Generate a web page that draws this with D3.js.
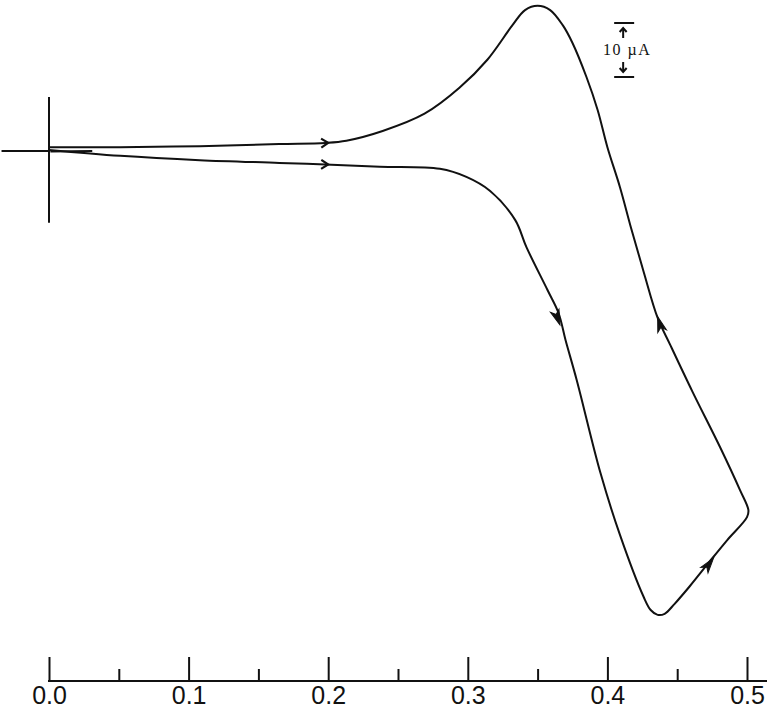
<!DOCTYPE html>
<html>
<head>
<meta charset="utf-8">
<script src="https://cdn.jsdelivr.net/npm/d3@7"></script>
<style>
  body { margin: 0; background: #fff; }
  svg { display: block; }
  .tick text { font-family: "Liberation Sans", Arial, sans-serif; font-size: 25px; fill: #111; }
</style>
</head>
<body>
<svg id="chart" width="767" height="710"></svg>
<script>
// voltammogram traced point by point: potential (V) and current (uA), one full loop
var potential = [0.000, 0.051, 0.108, 0.165, 0.198, 0.213, 0.239, 0.269, 0.294, 0.314,
  0.332, 0.341, 0.350, 0.359, 0.368, 0.375, 0.385, 0.393, 0.400, 0.409,
  0.417, 0.426, 0.436, 0.445, 0.461, 0.481, 0.495, 0.501, 0.500, 0.486,
  0.473, 0.459, 0.448, 0.441, 0.436, 0.431, 0.426, 0.409, 0.395, 0.378,
  0.370, 0.365, 0.357, 0.342, 0.334, 0.316, 0.299, 0.280, 0.237, 0.198,
  0.165, 0.108, 0.051, 0.000];
var current = [0.7, 0.7, 0.9, 1.3, 1.5, 1.9, 3.7, 6.9, 11.7, 16.9,
  23.3, 26.1, 26.9, 26.1, 23.3, 20.0, 13.7, 7.6, 0.7, -6.7,
  -14.3, -22.4, -30.9, -35.9, -44.6, -55.0, -62.8, -66.5, -67.8, -72.0,
  -76.1, -80.6, -83.9, -85.7, -85.9, -85.0, -82.6, -71.1, -59.6, -42.4,
  -35.0, -30.0, -25.7, -17.8, -12.8, -7.4, -4.8, -3.3, -2.9, -2.5,
  -2.2, -1.7, -0.9, 0.2];

// short stub near the start of the scan
var stubPotential = [0.001, 0.031];
var stubCurrent = [-0.1, 0.0];

// direction arrows: tip (E, i) and a point the arrow points toward
var arrowE = [0.200, 0.200, 0.366, 0.436, 0.476];
var arrowI = [1.5, -2.5, -32.2, -30.7, -75.4];
var arrowToE = [0.215, 0.215, 0.370, 0.426, 0.486];
var arrowToI = [1.6, -2.6, -35.0, -22.4, -72.0];
var arrowKind = ["open", "open", "solid", "solid", "solid"];

// axis ticks
var majorTicks = [0.0, 0.1, 0.2, 0.3, 0.4, 0.5];
var minorTicks = [0.05, 0.15, 0.25, 0.35, 0.45];

// origin cross and current scale bar
var crossE = [-0.034, 0];
var crossI = [10, -13.3];
var scaleBarE = 0.412;
var scaleBarI = [23.7, 13.7];
var scaleBarLabel = "10 \u00B5A";

var svg = d3.select("#chart");

var x = d3.scaleLinear().domain([0, 0.5]).range([49, 747]);
var y = d3.scaleLinear().domain([0, 10]).range([151, 97]);

var ink = "#111";

// origin cross
svg.append("line")
  .attr("x1", x(0)).attr("x2", x(0))
  .attr("y1", y(crossI[0])).attr("y2", y(crossI[1]))
  .attr("stroke", ink).attr("stroke-width", 2);
svg.append("line")
  .attr("x1", x(crossE[0])).attr("x2", x(crossE[1]))
  .attr("y1", y(0)).attr("y2", y(0))
  .attr("stroke", ink).attr("stroke-width", 2);

// the loop
var pts = potential.map(function(e, k) { return [e, current[k]]; });
var line = d3.line()
  .x(function(d) { return x(d[0]); })
  .y(function(d) { return y(d[1]); })
  .curve(d3.curveCatmullRom.alpha(0.5));

svg.append("path")
  .attr("d", line(pts))
  .attr("fill", "none")
  .attr("stroke", ink)
  .attr("stroke-width", 2)
  .attr("stroke-linejoin", "round");

svg.append("path")
  .attr("d", d3.line().x(function(d) { return x(d[0]); }).y(function(d) { return y(d[1]); })(
    stubPotential.map(function(e, k) { return [e, stubCurrent[k]]; })))
  .attr("fill", "none")
  .attr("stroke", ink)
  .attr("stroke-width", 2);

// arrows along the trace
arrowE.forEach(function(e, k) {
  var tx = x(e), ty = y(arrowI[k]);
  var ang = Math.atan2(y(arrowToI[k]) - ty, x(arrowToE[k]) - tx) * 180 / Math.PI;
  var g = svg.append("g")
    .attr("transform", "translate(" + tx + "," + ty + ") rotate(" + ang + ")");
  if (arrowKind[k] === "open") {
    g.append("path")
      .attr("d", "M-7,-4.5L0,0L-7,4.5")
      .attr("fill", "none")
      .attr("stroke", ink)
      .attr("stroke-width", 2.2);
  } else {
    g.append("path")
      .attr("d", "M0,0L-15,-4.5L-11,0L-15,4.5Z")
      .attr("fill", ink)
      .attr("stroke", ink)
      .attr("stroke-width", 1);
  }
});

// scale bar
var sb = svg.append("g");
scaleBarI.forEach(function(v) {
  sb.append("line")
    .attr("x1", x(scaleBarE) - 10).attr("x2", x(scaleBarE) + 10)
    .attr("y1", y(v)).attr("y2", y(v))
    .attr("stroke", ink).attr("stroke-width", 2);
});
var sbMid = (y(scaleBarI[0]) + y(scaleBarI[1])) / 2;
sb.append("text")
  .attr("x", x(scaleBarE) + 3)
  .attr("y", sbMid + 5)
  .attr("text-anchor", "middle")
  .style("font-family", "'Liberation Serif', 'Times New Roman', serif")
  .style("font-size", "16px")
  .style("letter-spacing", "1.5px")
  .attr("fill", ink)
  .text(scaleBarLabel);
// little arrows pointing at the bars
[[y(scaleBarI[0]) + 5, -1], [y(scaleBarI[1]) - 5, 1]].forEach(function(a) {
  var g = sb.append("g").attr("transform", "translate(" + (x(scaleBarE) - 1) + "," + a[0] + ")");
  g.append("line")
    .attr("x1", 0).attr("x2", 0)
    .attr("y1", 0).attr("y2", -a[1] * 10)
    .attr("stroke", ink).attr("stroke-width", 2);
  g.append("path")
    .attr("d", "M-3.5," + (-a[1] * 4) + "L0,0L3.5," + (-a[1] * 4))
    .attr("fill", "none").attr("stroke", ink).attr("stroke-width", 2);
});

// x axis, ticks pointing up
var axisY = 681;
var xAxis = d3.axisBottom(x)
  .tickValues(majorTicks)
  .tickFormat(d3.format(".1f"))
  .tickSizeInner(-24)
  .tickSizeOuter(0)
  .tickPadding(5);

var gx = svg.append("g")
  .attr("transform", "translate(0," + axisY + ")")
  .call(xAxis);
gx.select(".domain").remove();
gx.selectAll(".tick line").attr("stroke", ink).attr("stroke-width", 2);

var gm = svg.append("g")
  .attr("transform", "translate(0," + axisY + ")")
  .call(d3.axisBottom(x).tickValues(minorTicks).tickFormat("").tickSizeInner(-12).tickSizeOuter(0));
gm.select(".domain").remove();
gm.selectAll(".tick line").attr("stroke", ink).attr("stroke-width", 2);

svg.append("line")
  .attr("x1", x(0) - 1).attr("x2", x(0.52))
  .attr("y1", axisY).attr("y2", axisY)
  .attr("stroke", ink).attr("stroke-width", 2);
</script>
</body>
</html>
